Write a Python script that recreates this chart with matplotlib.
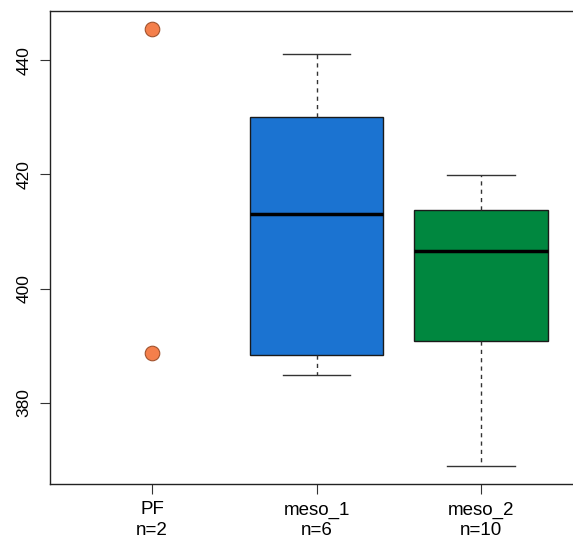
import matplotlib
matplotlib.use("Agg")
import matplotlib.pyplot as plt

plt.rcParams["font.family"] = ["Liberation Sans", "DejaVu Sans"]

categories = ["PF", "meso_1", "meso_2"]
counts = [2, 6, 10]
pf_points = [445.4, 388.7]
# whisker_low, q1, median, q3, whisker_high
meso_1 = [384.9, 388.4, 413.1, 430.0, 441.0]
meso_2 = [369.0, 390.9, 406.6, 413.8, 419.9]
colors = ["#F47F4B", "#1B73D1", "#00873F"]
yticks = [380, 400, 420, 440]

fig = plt.figure(figsize=(5.73, 5.44), dpi=100)
ax = fig.add_axes([50 / 573, 60 / 544, 533 / 573, 473 / 544])

# PF raw points
ax.scatter([1] * len(pf_points), pf_points, s=110, color=colors[0],
           edgecolor="#A0522D", linewidth=0.8, zorder=3)

stats = []
for pos, vals in zip([2, 3], [meso_1, meso_2]):
    stats.append(dict(whislo=vals[0], q1=vals[1], med=vals[2], q3=vals[3],
                      whishi=vals[4], fliers=[], label=""))
bp = ax.bxp(stats, positions=[2, 3], widths=0.81, patch_artist=True,
            showfliers=False,
            boxprops=dict(linewidth=1.0, edgecolor="#1a1a1a"),
            medianprops=dict(color="black", linewidth=2.5),
            whiskerprops=dict(color="#333333", linewidth=1.0, linestyle=(0, (3, 3))),
            capprops=dict(color="#333333", linewidth=1.0),
            capwidths=0.41)
for patch, c in zip(bp["boxes"], colors[1:]):
    patch.set_facecolor(c)

ax.set_xlim(0.38, 3.62)
ax.set_ylim(365.8, 448.6)
ax.set_xticks([1, 2, 3])
ax.set_xticklabels([f"{c}\nn={n}" for c, n in zip(categories, counts)],
                   fontsize=13.5, linespacing=1.3)
ax.set_yticks(yticks)
ax.set_yticklabels([str(v) for v in yticks], rotation=90, va="center", fontsize=12.5)
ax.tick_params(axis="both", length=7.5, width=0.8, color="#333333")
ax.tick_params(axis="x", pad=5)
ax.tick_params(axis="y", pad=6)
for s in ax.spines.values():
    s.set_linewidth(1.0)
    s.set_color("#222222")

fig.savefig("out.png", dpi=100)
